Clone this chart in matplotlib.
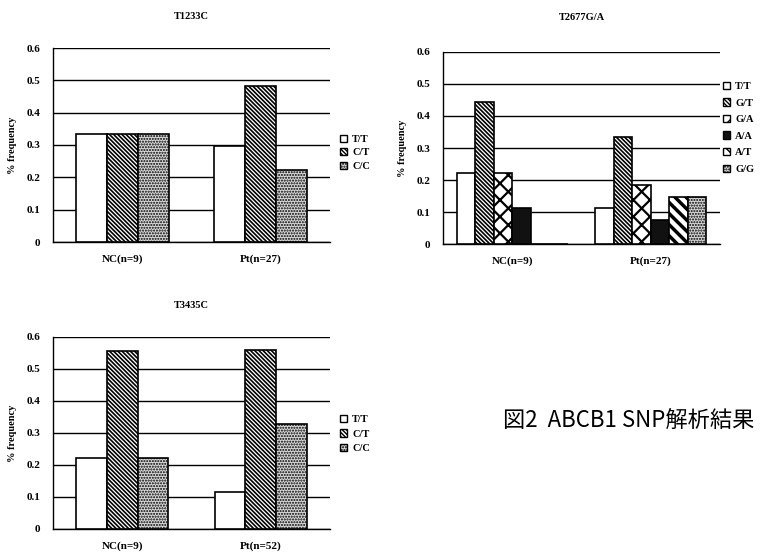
import matplotlib
matplotlib.use("Agg")
import matplotlib.pyplot as plt
import numpy as np
from matplotlib.patches import Patch

plt.rcParams['font.family'] = ['Liberation Serif', 'DejaVu Serif']
plt.rcParams['hatch.linewidth'] = 1.0

# ---- data ----
groups_1 = ["NC(n=9)", "Pt(n=27)"]
geno_1 = ["T/T", "C/T", "C/C"]
vals_1 = {"T/T": [0.333, 0.296], "C/T": [0.333, 0.481], "C/C": [0.333, 0.222]}

groups_2 = ["NC(n=9)", "Pt(n=27)"]
geno_2 = ["T/T", "G/T", "G/A", "A/A", "A/T", "G/G"]
vals_2 = {"T/T": [0.222, 0.111], "G/T": [0.444, 0.333], "G/A": [0.222, 0.185],
          "A/A": [0.111, 0.074], "A/T": [0.0, 0.148], "G/G": [0.0, 0.148]}

groups_3 = ["NC(n=9)", "Pt(n=52)"]
geno_3 = ["T/T", "C/T", "C/C"]
vals_3 = {"T/T": [0.222, 0.115], "C/T": [0.556, 0.558], "C/C": [0.222, 0.327]}

titles = ["T1233C", "T2677G/A", "T3435C"]
caption = "図2  ABCB1 SNP解析結果"
yticks = [0, 0.1, 0.2, 0.3, 0.4, 0.5, 0.6]
ytick_labels = ["0", "0.1", "0.2", "0.3", "0.4", "0.5", "0.6"]

# ---- styles ----
styles = {
    "T/T": dict(facecolor="white", hatch=None, hlw=1.0),
    "C/T": dict(facecolor="white", hatch="\\\\\\\\\\\\\\\\", hlw=1.2),
    "G/T": dict(facecolor="white", hatch="\\\\\\\\\\\\\\\\", hlw=1.2),
    "C/C": dict(facecolor="#d8d8d8", hatch="......", hlw=1.0),
    "G/A": dict(facecolor="white", hatch="xx", hlw=1.6),
    "A/A": dict(facecolor="#111111", hatch=None, hlw=1.0),
    "A/T": dict(facecolor="white", hatch="\\\\\\", hlw=2.5),
    "G/G": dict(facecolor="#d8d8d8", hatch="......", hlw=1.0),
}

W, H = 762, 555
fig = plt.figure(figsize=(W / 100, H / 100), dpi=100)


def make_axes(px_left, px_top, px_right, px_bottom):
    return fig.add_axes([px_left / W, 1 - px_bottom / H,
                         (px_right - px_left) / W, (px_bottom - px_top) / H])


def draw(ax, groups, genos, vals, title, total_w, leg_anchor, leg_spacing, title_pad):
    x = np.arange(len(groups))
    n = len(genos)
    bw = total_w / n
    handles = []
    for i, g in enumerate(genos):
        st = styles[g]
        plt.rcParams['hatch.linewidth'] = st["hlw"]
        bars = ax.bar(x - total_w / 2 + bw * (i + 0.5), vals[g], width=bw,
                      facecolor=st["facecolor"], edgecolor="black",
                      hatch=st["hatch"], linewidth=1.2, zorder=3)
        for b in bars:
            if hasattr(b, "set_hatch_linewidth"):
                b.set_hatch_linewidth(st["hlw"])
        h = Patch(facecolor=st["facecolor"], edgecolor="black",
                  hatch=(st["hatch"] if st["hatch"] else None), linewidth=1.0)
        if hasattr(h, "set_hatch_linewidth"):
            h.set_hatch_linewidth(min(st["hlw"], 1.0))
        handles.append(h)
    ax.set_xlim(-0.5, 1.5)
    ax.set_ylim(0, 0.6)
    ax.set_yticks(yticks)
    ax.set_yticklabels(ytick_labels, fontsize=8, fontweight="bold")
    ax.set_xticks(x)
    ax.set_xticklabels(groups, fontsize=8, fontweight="bold")
    ax.tick_params(axis="both", length=0)
    ax.tick_params(axis="y", pad=9)
    ax.tick_params(axis="x", pad=9)
    ax.yaxis.grid(True, color="black", linewidth=1.0)
    ax.set_axisbelow(True)
    for s in ["top", "right"]:
        ax.spines[s].set_visible(False)
    for s in ["left", "bottom"]:
        ax.spines[s].set_linewidth(1.0)
    ax.set_ylabel("% frequency", fontsize=7.5, fontweight="bold", labelpad=7)
    ax.set_title(title, fontsize=7.5, fontweight="bold", pad=title_pad)
    ax.legend(handles, genos, loc="center left", bbox_to_anchor=leg_anchor,
              frameon=False, prop={"weight": "bold", "size": 7.5},
              handlelength=0.7, handleheight=0.7, handletextpad=0.5,
              labelspacing=leg_spacing, borderpad=0, borderaxespad=0)


ax1 = make_axes(53, 48, 330, 242)
draw(ax1, groups_1, geno_1, vals_1, titles[0], 0.675, (1.035, 0.46), 0.4, 21)

ax2 = make_axes(443, 52, 720, 244)
draw(ax2, groups_2, geno_2, vals_2, titles[1], 0.8, (1.01, 0.605), 0.7, 23)

ax3 = make_axes(53, 337, 330, 529)
draw(ax3, groups_3, geno_3, vals_3, titles[2], 0.665, (1.035, 0.495), 0.5, 21)

fig.text(503 / W, 1 - 420 / H, caption, fontsize=16, va="center", ha="left",
         family=["Noto Sans CJK JP", "DejaVu Sans"])

fig.savefig("out.png", dpi=100)
